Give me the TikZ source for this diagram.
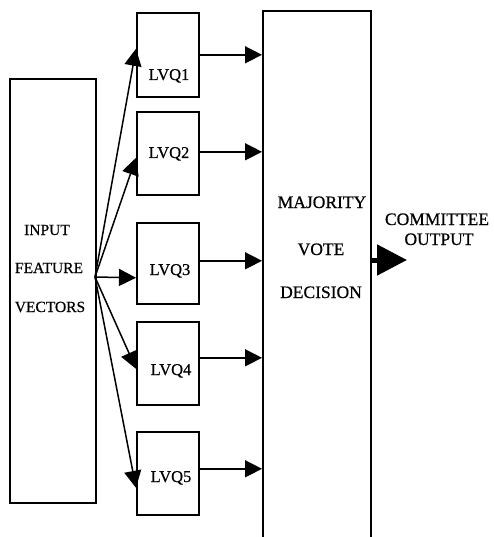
\documentclass[tikz,border=0pt]{standalone}
\usepackage{fontspec}
\setmainfont{Liberation Serif}[FakeBold=0.6]
\usetikzlibrary{arrows.meta}
\begin{document}
\begin{tikzpicture}[x=1pt,y=-1pt,
  blk/.style={draw,line width=1.6pt,inner sep=0pt,anchor=north west},
  arr/.style={line width=1.5pt,-{Triangle[length=17pt,width=17pt]}},
  lbl/.style={anchor=base,inner sep=0pt,font=\fontsize{15.5}{18}\selectfont},
  lvqlbl/.style={anchor=base,inner sep=0pt,font=\fontsize{16.5}{19}\selectfont},
  rlbl/.style={anchor=base,inner sep=0pt,font=\fontsize{17.5}{20}\selectfont}]
\useasboundingbox (0,0) rectangle (493,537);
% boxes
\node[blk,minimum width=86pt,minimum height=424pt] (inp) at (9,78) {};
\node[blk,minimum width=62pt,minimum height=84pt] (lvq1) at (136,12) {};
\node[blk,minimum width=62pt,minimum height=83pt] (lvq2) at (136,111) {};
\node[blk,minimum width=62pt,minimum height=81pt] (lvq3) at (136,222) {};
\node[blk,minimum width=62pt,minimum height=83pt] (lvq4) at (136,321) {};
\node[blk,minimum width=62pt,minimum height=83pt] (lvq5) at (136,431) {};
\node[blk,minimum width=108pt,minimum height=560pt] (maj) at (262,10) {};
% labels
\node[lbl] (t1) at (47,235) {INPUT};
\node[lbl] (t2) at (49,273) {FEATURE};
\node[lbl] (t3) at (50,312) {VECTORS};
\node[lvqlbl] (l1) at (169,80) {LVQ1};
\node[lvqlbl] (l2) at (169,158) {LVQ2};
\node[lvqlbl] (l3) at (170,275) {LVQ3};
\node[lvqlbl] (l4) at (171,375) {LVQ4};
\node[lvqlbl] (l5) at (171,482) {LVQ5};
\node[rlbl] (m1) at (322,208) {MAJORITY};
\node[rlbl] (m2) at (321,255) {VOTE};
\node[rlbl] (m3) at (321,298) {DECISION};
\node[rlbl] (c1) at (437,225) {COMMITTEE};
\node[rlbl] (c2) at (439,245) {OUTPUT};
% fan
\coordinate (fan) at (95,277);
\draw[arr] (fan) -- ([yshift=6pt]lvq1.west);
\draw[arr] (fan) -- ([yshift=-4.5pt]lvq2.west);
\draw[arr] (fan) -- ([yshift=-14.5pt]lvq3.west);
\draw[arr] (fan) -- ([yshift=-5.5pt]lvq4.west);
\draw[arr] (fan) -- ([yshift=-14.5pt]lvq5.west);
% to majority
\draw[arr] (lvq1.east) -- (lvq1.east -| maj.west);
\draw[arr] ([yshift=1.5pt]lvq2.east) -- ([yshift=1.5pt]lvq2.east -| maj.west);
\draw[arr] ([yshift=2.5pt]lvq3.east) -- ([yshift=2.5pt]lvq3.east -| maj.west);
\draw[arr] ([yshift=5.5pt]lvq4.east) -- ([yshift=5.5pt]lvq4.east -| maj.west);
\draw[arr] ([yshift=4.5pt]lvq5.east) -- ([yshift=4.5pt]lvq5.east -| maj.west);
% output
\coordinate (outtip) at (407,260);
\draw[line width=5pt,-{Triangle[length=30pt,width=30pt]}] (maj.east |- outtip) -- (outtip);
\end{tikzpicture}
\end{document}
